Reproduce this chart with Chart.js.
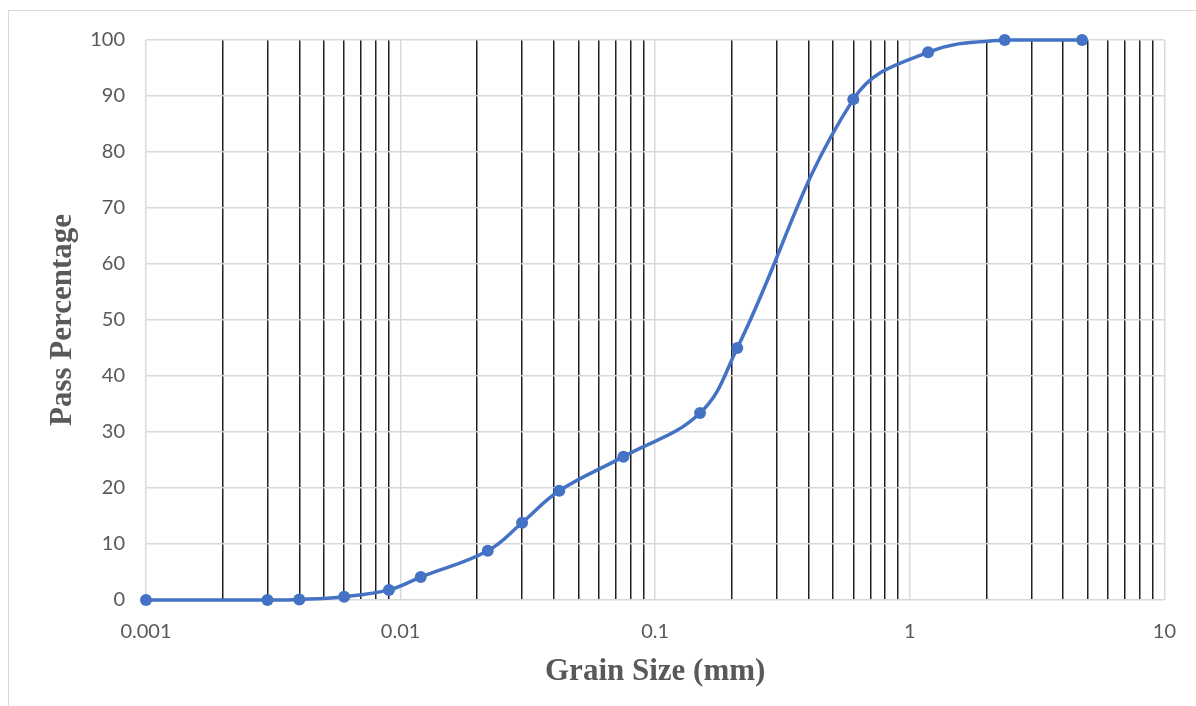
<!DOCTYPE html>
<html lang="en">
<head>
    <meta charset="UTF-8">
    <title>Grain Size Distribution</title>
    <script src="https://cdn.jsdelivr.net/npm/chart.js/dist/chart.umd.min.js"></script>
    <style>
        body { margin: 0; overflow: hidden; background: white; }
        .frame {
            position: absolute;
            left: 8px;
            top: 10px;
            width: 1400px;
            height: 900px;
            border: 1px solid #d9d9d9;
        }
        .chartBox {
            position: absolute;
            left: 0;
            top: 0;
            width: 1196px;
            height: 706px;
        }
    </style>
</head>
<body>
    <div class="frame"></div>
    <div class="chartBox">
        <canvas id="myChart"></canvas>
    </div>

    <script>
        // sieve / hydrometer readings
        const grainSize = [0.001, 0.003, 0.004, 0.006, 0.009, 0.012, 0.022, 0.030, 0.042, 0.075, 0.15, 0.21, 0.6, 1.18, 2.36, 4.75];
        const passPct   = [0, 0, 0.1, 0.6, 1.8, 4.1, 8.8, 13.8, 19.5, 25.6, 33.4, 45, 89.4, 97.8, 100, 100];

        // axis ticks
        const decadeTicks = [0.001, 0.01, 0.1, 1, 10];
        const minorSteps = [2, 3, 4, 5, 6, 7, 8, 9];
        const yTicks = [0, 10, 20, 30, 40, 50, 60, 70, 80, 90, 100];

        // every gridline position on the log axis
        const xGridValues = [];
        decadeTicks.forEach((d, i) => {
            xGridValues.push(d);
            if (i < decadeTicks.length - 1) {
                minorSteps.forEach(m => xGridValues.push(+(d * m).toPrecision(3)));
            }
        });
        const isDecade = v => decadeTicks.some(d => Math.abs(d - v) < d * 1e-6);

        const points = grainSize.map((x, i) => ({ x: x, y: passPct[i] }));

        const tickFont = { family: 'Lato, "Open Sans", sans-serif', size: 20 };
        const titleFont = { family: '"Liberation Serif", "Times New Roman", serif', size: 31, weight: 'bold' };

        const ctx = document.getElementById('myChart').getContext('2d');
        const myChart = new Chart(ctx, {
            type: 'line',
            data: {
                datasets: [{
                    label: 'Pass Percentage',
                    data: points,
                    borderColor: '#4472C4',
                    backgroundColor: '#4472C4',
                    borderWidth: 3.5,
                    pointRadius: 6,
                    pointHoverRadius: 6,
                    pointBorderWidth: 0,
                    tension: 0.4,
                    clip: false,
                    fill: false
                }]
            },
            options: {
                responsive: true,
                maintainAspectRatio: false,
                animation: false,
                layout: { padding: { left: 8, top: 40, right: 25, bottom: 0 } },
                plugins: {
                    legend: { display: false },
                    tooltip: { enabled: false }
                },
                scales: {
                    x: {
                        type: 'logarithmic',
                        min: 0.001,
                        max: 10,
                        afterBuildTicks: (scale) => {
                            scale.ticks = xGridValues.map(v => ({ value: v, major: isDecade(v) }));
                        },
                        afterFit: (scale) => { scale.height = 106; },
                        grid: {
                            drawTicks: false,
                            color: (c) => (c.tick && isDecade(c.tick.value)) ? '#d9d9d9' : '#1f1f1f',
                            lineWidth: 1.5
                        },
                        border: { display: false },
                        ticks: {
                            autoSkip: false,
                            maxRotation: 0,
                            minRotation: 0,
                            padding: 20,
                            color: '#595959',
                            font: tickFont,
                            callback: (v) => isDecade(v) ? String(+v.toPrecision(3)) : ''
                        },
                        title: {
                            display: true,
                            text: 'Grain Size (mm)',
                            color: '#595959',
                            font: titleFont,
                            padding: { top: 0, bottom: 15 }
                        }
                    },
                    y: {
                        min: 0,
                        max: 100,
                        afterBuildTicks: (scale) => {
                            scale.ticks = yTicks.map(v => ({ value: v }));
                        },
                        afterFit: (scale) => { scale.width = 138; },
                        grid: {
                            drawTicks: false,
                            color: '#d9d9d9',
                            lineWidth: 1.5
                        },
                        border: { display: false },
                        ticks: {
                            padding: 21,
                            color: '#595959',
                            font: tickFont
                        },
                        title: {
                            display: true,
                            text: 'Pass Percentage',
                            color: '#595959',
                            font: titleFont,
                            padding: { top: 36, bottom: 0 }
                        }
                    }
                }
            }
        });
    </script>
</body>
</html>
